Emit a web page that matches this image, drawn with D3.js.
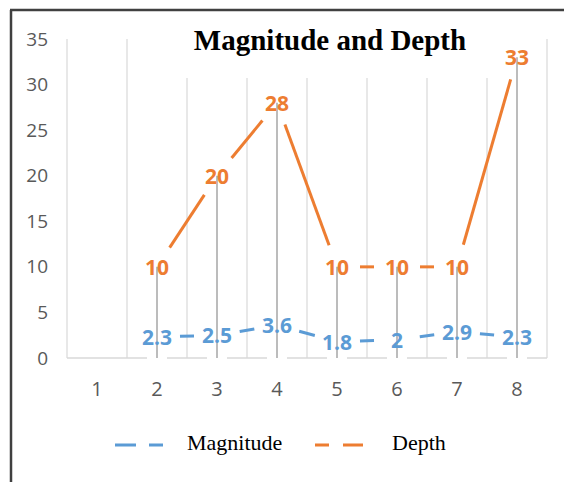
<!DOCTYPE html>
<html>
<head>
<meta charset="utf-8">
<script src="https://cdn.jsdelivr.net/npm/d3@7"></script>
<style>
  body { margin: 0; background: #fff; }
  svg { display: block; }
</style>
</head>
<body>
<script>
// chart data
var categories = ["1", "2", "3", "4", "5", "6", "7", "8"];
var magnitude = [null, 2.3, 2.5, 3.6, 1.8, 2, 2.9, 2.3];
var depth = [null, 10, 20, 28, 10, 10, 10, 33];
var yTicks = [0, 5, 10, 15, 20, 25, 30, 35];
var seriesNames = ["Magnitude", "Depth"];
var seriesColors = ["#5B9BD5", "#ED7D31"];

var w = 564;
var h = 482;
var gap = 23;   // lines stop short of each point label

var svg = d3.select("body")
            .append("svg")
            .attr("width", w)
            .attr("height", h);

var x = d3.scaleBand().domain(categories).range([67, 547]).padding(0);
var y = d3.scaleLinear().domain([0, 35]).range([358, 39]);

function cx(i) { return x(categories[i]) + x.bandwidth() / 2; }

// frame
svg.append("line").attr("x1", 10).attr("x2", w).attr("y1", 10).attr("y2", 10)
   .style("stroke", "#404040").style("stroke-width", 2.5);
svg.append("line").attr("x1", 11).attr("x2", 11).attr("y1", 10).attr("y2", h)
   .style("stroke", "#404040").style("stroke-width", 2.5);

// vertical gridlines at category boundaries
var bounds = categories.map(function(c) { return x(c); }).concat([x.range()[1]]);
svg.append("g").selectAll("line")
   .data(bounds)
   .enter()
   .append("line")
   .attr("x1", function(d) { return d; })
   .attr("x2", function(d) { return d; })
   .attr("y1", y(35))
   .attr("y2", y(0))
   .style("stroke", "#d9d9d9")
   .style("stroke-width", 1.2);

// baseline
svg.append("line")
   .attr("x1", x.range()[0]).attr("x2", x.range()[1])
   .attr("y1", y(0)).attr("y2", y(0))
   .style("stroke", "#d9d9d9").style("stroke-width", 1.5);

var depthPts = depth.map(function(d, i) { return {v: d, i: i}; })
                    .filter(function(d) { return d.v !== null; });

// small breaks in the baseline under the drop lines
svg.append("g").selectAll("line")
   .data(depthPts)
   .enter()
   .append("line")
   .attr("x1", function(d) { return cx(d.i) - 10; })
   .attr("x2", function(d) { return cx(d.i) + 10; })
   .attr("y1", y(0)).attr("y2", y(0))
   .style("stroke", "#fff").style("stroke-width", 3);

// drop lines
svg.append("g").selectAll("line")
   .data(depthPts)
   .enter()
   .append("line")
   .attr("x1", function(d) { return cx(d.i); })
   .attr("x2", function(d) { return cx(d.i); })
   .attr("y1", function(d) { return y(d.v); })
   .attr("y2", y(0))
   .style("stroke", "#a6a6a6")
   .style("stroke-width", 1.5);

// y axis labels
var yAxis = d3.axisLeft(y).tickValues(yTicks).tickSize(0).tickPadding(0);
var gy = svg.append("g").attr("transform", "translate(48,0)").call(yAxis);
gy.select(".domain").remove();
gy.selectAll("text")
  .style("font-family", "'Open Sans', sans-serif")
  .style("font-size", "19px")
  .style("fill", "#595959");

// x axis labels
var xAxis = d3.axisBottom(x).tickSize(0).tickPadding(0);
var gx = svg.append("g").attr("transform", "translate(0,382)").call(xAxis);
gx.select(".domain").remove();
gx.selectAll("text")
  .style("font-family", "'Open Sans', sans-serif")
  .style("font-size", "20px")
  .style("fill", "#595959");

// series lines, each segment trimmed near the labels
function segments(vals) {
    var segs = [];
    for (var i = 0; i < vals.length - 1; i++) {
        if (vals[i] === null || vals[i + 1] === null) { continue; }
        var x1 = cx(i), y1 = y(vals[i]), x2 = cx(i + 1), y2 = y(vals[i + 1]);
        var len = Math.sqrt((x2 - x1) * (x2 - x1) + (y2 - y1) * (y2 - y1));
        var ux = (x2 - x1) / len, uy = (y2 - y1) / len;
        segs.push({x1: x1 + ux * gap, y1: y1 + uy * gap, x2: x2 - ux * gap, y2: y2 - uy * gap});
    }
    return segs;
}

[magnitude, depth].forEach(function(vals, k) {
    svg.append("g").selectAll("line")
       .data(segments(vals))
       .enter()
       .append("line")
       .attr("x1", function(d) { return d.x1; })
       .attr("y1", function(d) { return d.y1; })
       .attr("x2", function(d) { return d.x2; })
       .attr("y2", function(d) { return d.y2; })
       .style("stroke", seriesColors[k])
       .style("stroke-width", 3);

    svg.append("g").selectAll("text")
       .data(vals.map(function(v, i) { return {v: v, i: i}; }).filter(function(d) { return d.v !== null; }))
       .enter()
       .append("text")
       .text(function(d) { return d.v; })
       .attr("x", function(d) { return cx(d.i); })
       .attr("y", function(d) { return y(d.v); })
       .attr("text-anchor", "middle")
       .attr("dominant-baseline", "central")
       .style("font-family", "'Open Sans', sans-serif")
       .style("font-weight", "bold")
       .style("font-size", "21px")
       .style("fill", seriesColors[k]);
});

// title box covers the gridlines
svg.append("rect").attr("x", 176).attr("y", 20).attr("width", 318).attr("height", 58)
   .style("fill", "#fff");
svg.append("text")
   .text("Magnitude and Depth")
   .attr("x", 330).attr("y", 50)
   .attr("text-anchor", "middle")
   .style("font-family", "'Liberation Serif', 'Times New Roman', serif")
   .style("font-weight", "bold")
   .style("font-size", "29px")
   .style("fill", "#000");

// legend
var legendX = [115, 315];
var legendTextX = [187, 392];
var legendDash = ["21,13,14", "14,14,21"];
seriesNames.forEach(function(name, k) {
    svg.append("line")
       .attr("x1", legendX[k]).attr("x2", legendX[k] + 48)
       .attr("y1", 445).attr("y2", 445)
       .style("stroke", seriesColors[k])
       .style("stroke-width", 3)
       .style("stroke-dasharray", legendDash[k]);
    svg.append("text")
       .text(name)
       .attr("x", legendTextX[k]).attr("y", 450)
       .style("font-family", "'Liberation Serif', 'Times New Roman', serif")
       .style("font-size", "22px")
       .style("fill", "#000");
});
</script>
</body>
</html>
